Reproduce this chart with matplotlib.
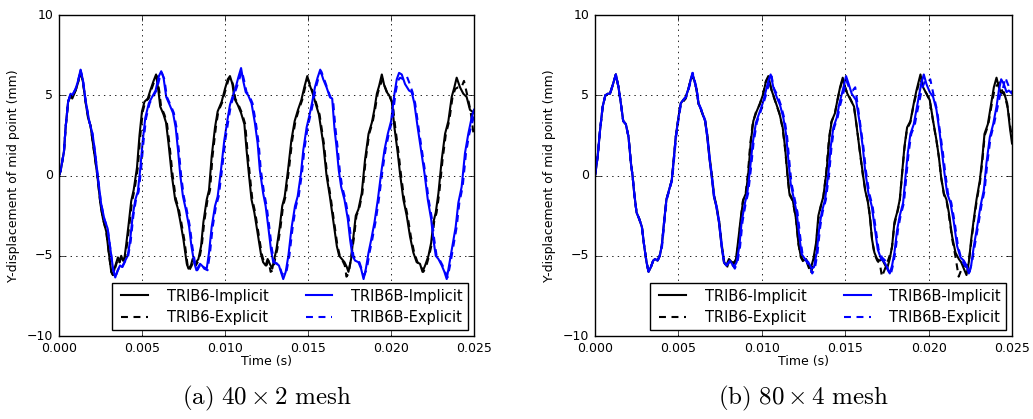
import numpy as np
import matplotlib
matplotlib.use("Agg")
import matplotlib.pyplot as plt
from matplotlib.ticker import FormatStrFormatter

# mid point y-displacement (mm) against time (ms), read as (t, y) pairs
# ---------------- 40 x 2 mesh ----------------
trib6_imp_40 = [(0,0),(0.1,0.3),(0.3,1.5),(0.4,3.0),(0.55,4.6),(0.7,5.0),(0.8,4.8),(1.0,5.3),(1.15,5.8),(1.3,6.5),(1.45,5.8),(1.6,4.6),(1.75,3.6),(1.9,3.1),(2.1,1.6),(2.3,0.1),(2.5,-1.8),(2.65,-2.7),(2.85,-3.5),(3.0,-4.8),(3.15,-6.0),(3.25,-6.2),(3.4,-5.6),(3.55,-5.1),(3.65,-5.4),(3.75,-5.0),(3.85,-5.3),(3.95,-5.1),(4.05,-4.3),(4.2,-3.0),(4.35,-1.6),(4.5,-0.9),(4.7,0.5),(4.85,2.5),(5.0,4.0),(5.15,4.6),(5.35,4.8),(5.5,5.3),(5.7,5.9),(5.85,6.3),(6.0,5.2),(6.1,4.3),(6.3,3.8),(6.45,3.3),(6.6,2.0),(6.8,0.0),(7.0,-1.5),(7.15,-2.0),(7.3,-2.8),(7.5,-4.0),(7.7,-5.5),(7.8,-5.8),(7.95,-5.6),(8.05,-5.2),(8.2,-5.5),(8.4,-5.2),(8.56,-4.4),(8.7,-2.9),(8.9,-1.5),(9.04,-0.9),(9.2,1.2),(9.4,3.0),(9.56,4.0),(9.8,4.6),(10.0,5.4),(10.17,6.0),(10.3,6.2),(10.45,5.7),(10.57,4.8),(10.77,4.4),(10.97,3.9),(11.17,3.2),(11.3,1.6),(11.45,0.0),(11.6,-1.5),(11.77,-2.3),(11.97,-3.6),(12.17,-4.9),(12.3,-5.4),(12.45,-5.6),(12.57,-5.2),(12.7,-5.5),(12.85,-5.8),(12.97,-5.2),(13.1,-4.6),(13.3,-3.2),(13.45,-1.9),(13.6,-1.3),(13.8,0.35),(14.0,2.2),(14.2,3.4),(14.4,4.1),(14.6,4.7),(14.78,5.5),(14.96,6.2),(15.12,5.6),(15.26,5.2),(15.46,4.5),(15.66,3.8),(15.92,2.0),(16.12,0.0),(16.32,-1.3),(16.52,-2.8),(16.74,-4.4),(16.88,-5.0),(17.04,-5.2),(17.2,-5.4),(17.34,-5.7),(17.44,-6.0),(17.6,-5.2),(17.74,-3.8),(17.88,-2.5),(18.04,-2.1),(18.24,-1.1),(18.44,1.0),(18.65,2.6),(18.85,3.3),(19.0,4.1),(19.15,5.1),(19.29,5.6),(19.45,6.3),(19.6,5.6),(19.75,5.2),(19.89,5.0),(20.05,4.6),(20.21,3.0),(20.41,1.4),(20.55,0.1),(20.75,-1.5),(20.95,-2.5),(21.15,-3.8),(21.35,-4.8),(21.55,-5.4),(21.75,-5.5),(21.9,-6.0),(22.06,-5.6),(22.26,-5.0),(22.42,-4.2),(22.56,-2.9),(22.7,-2.3),(22.86,-1.1),(23.06,1.0),(23.26,2.6),(23.46,3.4),(23.66,4.9),(23.82,5.5),(23.96,6.1),(24.16,5.5),(24.36,5.1),(24.56,4.9),(24.76,4.1),(25.0,3.9)]

trib6_exp_40 = [(0,0),(0.1,0.3),(0.3,1.5),(0.4,3.0),(0.55,4.6),(0.7,5.0),(0.8,4.9),(1.0,5.3),(1.15,5.8),(1.3,6.5),(1.45,5.8),(1.6,4.6),(1.75,3.7),(1.9,3.1),(2.1,1.6),(2.3,0.1),(2.5,-1.8),(2.65,-2.7),(2.85,-3.5),(3.0,-4.8),(3.15,-6.0),(3.25,-6.2),(3.4,-5.7),(3.55,-5.2),(3.65,-5.4),(3.75,-5.0),(3.9,-5.3),(4.0,-5.0),(4.1,-4.3),(4.25,-3.0),(4.4,-1.6),(4.55,-0.9),(4.75,0.5),(4.9,2.5),(5.05,4.0),(5.2,4.6),(5.4,4.8),(5.55,5.3),(5.75,5.9),(5.9,6.2),(6.05,5.2),(6.15,4.3),(6.35,3.8),(6.5,3.3),(6.65,2.0),(6.85,0.0),(7.05,-1.5),(7.2,-2.0),(7.35,-2.8),(7.55,-4.0),(7.75,-5.6),(7.85,-5.9),(8.0,-5.6),(8.1,-5.3),(8.25,-5.6),(8.45,-5.2),(8.6,-4.4),(8.75,-2.9),(8.95,-1.5),(9.1,-0.9),(9.25,1.2),(9.45,3.0),(9.6,4.0),(9.85,4.6),(10.05,5.4),(10.22,6.0),(10.35,6.1),(10.5,5.6),(10.62,4.8),(10.82,4.4),(11.02,3.9),(11.22,3.2),(11.35,1.6),(11.5,0.0),(11.65,-1.5),(11.82,-2.3),(12.02,-3.6),(12.22,-4.9),(12.35,-5.4),(12.5,-5.6),(12.62,-5.3),(12.75,-6.0),(12.88,-5.9),(13.02,-5.2),(13.15,-4.6),(13.35,-3.2),(13.5,-1.9),(13.65,-1.3),(13.85,0.35),(14.05,2.2),(14.25,3.4),(14.45,4.1),(14.65,4.7),(14.83,5.5),(15.0,6.0),(15.16,5.6),(15.3,5.2),(15.5,4.5),(15.7,3.8),(15.96,2.0),(16.16,0.0),(16.36,-1.3),(16.56,-2.8),(16.78,-4.4),(16.92,-5.0),(17.08,-5.3),(17.22,-5.6),(17.32,-6.3),(17.45,-6.1),(17.62,-5.0),(17.78,-3.8),(17.92,-2.5),(18.08,-2.1),(18.28,-1.1),(18.48,1.0),(18.69,2.6),(18.89,3.3),(19.04,4.1),(19.2,5.1),(19.34,5.6),(19.5,6.0),(19.65,5.5),(19.8,5.1),(19.94,4.9),(20.1,4.5),(20.26,3.0),(20.46,1.4),(20.6,0.1),(20.8,-1.5),(21.0,-2.5),(21.2,-3.8),(21.4,-4.8),(21.6,-5.4),(21.8,-5.6),(21.95,-6.0),(22.11,-5.7),(22.3,-5.0),(22.47,-4.2),(22.6,-2.9),(22.75,-2.3),(22.91,-1.1),(23.11,1.0),(23.31,2.6),(23.51,3.4),(23.71,4.9),(23.87,5.4),(24.05,5.5),(24.25,5.5),(24.4,5.9),(24.6,5.0),(24.8,4.0),(25.0,2.4)]

trib6b_imp_40 = [(0,0),(0.1,0.3),(0.3,1.5),(0.4,3.0),(0.55,4.6),(0.7,5.1),(0.8,5.0),(1.0,5.4),(1.15,5.9),(1.3,6.6),(1.45,5.9),(1.6,4.7),(1.82,3.4),(2.02,2.6),(2.18,1.4),(2.32,0.1),(2.53,-1.7),(2.73,-2.7),(2.93,-3.3),(3.13,-4.8),(3.27,-5.9),(3.39,-6.35),(3.54,-5.9),(3.68,-5.6),(3.8,-5.7),(3.94,-5.4),(4.14,-5.0),(4.28,-4.1),(4.44,-2.5),(4.6,-1.5),(4.75,-1.0),(4.89,0.35),(5.05,2.2),(5.2,3.6),(5.41,4.5),(5.61,4.9),(5.82,5.3),(6.02,6.2),(6.16,6.5),(6.3,6.1),(6.46,4.9),(6.67,4.4),(6.87,3.9),(7.03,3.0),(7.17,1.6),(7.31,0.0),(7.47,-1.3),(7.64,-2.1),(7.84,-3.2),(7.98,-4.4),(8.14,-5.4),(8.28,-5.9),(8.5,-5.5),(8.7,-5.7),(8.9,-5.8),(9.04,-4.8),(9.2,-3.2),(9.4,-1.9),(9.56,-1.3),(9.76,0.35),(9.96,2.2),(10.17,3.6),(10.3,4.4),(10.45,4.9),(10.65,5.5),(10.8,6.1),(10.97,6.7),(11.1,5.9),(11.25,5.2),(11.4,5.0),(11.6,4.5),(11.8,3.3),(11.97,2.0),(12.1,0.35),(12.3,-1.1),(12.45,-1.9),(12.61,-3.2),(12.77,-4.6),(12.91,-5.4),(13.11,-5.5),(13.25,-5.6),(13.37,-6.0),(13.51,-6.45),(13.66,-6.0),(13.82,-5.0),(14.02,-3.2),(14.22,-1.9),(14.38,-1.3),(14.58,0.15),(14.72,1.6),(14.92,3.0),(15.12,3.9),(15.26,4.6),(15.42,5.5),(15.58,6.1),(15.74,6.6),(15.92,6.0),(16.12,5.5),(16.32,4.9),(16.46,4.8),(16.6,2.9),(16.72,1.8),(16.86,0.3),(17.0,-0.7),(17.2,-1.5),(17.4,-2.7),(17.54,-4.0),(17.68,-5.0),(17.84,-5.3),(18.04,-5.4),(18.2,-5.8),(18.35,-6.45),(18.49,-5.8),(18.65,-4.8),(18.81,-4.0),(19.01,-2.9),(19.21,-1.5),(19.41,0.15),(19.61,1.6),(19.81,2.6),(20.01,3.4),(20.21,5.1),(20.35,6.0),(20.49,6.4),(20.65,6.3),(20.85,5.7),(21.09,5.3),(21.25,5.2),(21.41,4.5),(21.61,3.0),(21.81,1.6),(22.02,0.15),(22.22,-1.5),(22.42,-2.7),(22.56,-4.0),(22.7,-5.0),(22.86,-5.2),(23.06,-5.6),(23.22,-6.0),(23.36,-6.45),(23.5,-5.6),(23.7,-4.4),(23.9,-3.2),(24.06,-1.7),(24.26,-0.7),(24.46,1.4),(24.66,2.6),(24.86,3.6),(25.0,4.1)]

trib6b_exp_40 = [(0,0),(0.1,0.3),(0.3,1.5),(0.4,3.0),(0.55,4.6),(0.7,5.1),(0.8,5.0),(1.0,5.4),(1.15,5.9),(1.3,6.6),(1.45,5.9),(1.6,4.7),(1.82,3.4),(2.02,2.6),(2.18,1.4),(2.32,0.1),(2.53,-1.7),(2.73,-2.7),(2.93,-3.3),(3.13,-4.8),(3.27,-5.9),(3.4,-6.3),(3.55,-5.9),(3.7,-5.6),(3.82,-5.7),(3.96,-5.4),(4.17,-5.0),(4.32,-4.1),(4.48,-2.5),(4.64,-1.5),(4.8,-1.0),(4.94,0.35),(5.1,2.2),(5.25,3.6),(5.46,4.5),(5.66,4.9),(5.87,5.3),(6.07,6.1),(6.2,6.4),(6.35,6.0),(6.5,4.9),(6.72,4.4),(6.92,3.9),(7.08,3.0),(7.22,1.6),(7.36,0.0),(7.52,-1.3),(7.69,-2.1),(7.89,-3.2),(8.03,-4.4),(8.19,-5.4),(8.33,-5.9),(8.55,-5.5),(8.75,-5.8),(8.95,-5.9),(9.1,-4.8),(9.26,-3.2),(9.46,-1.9),(9.62,-1.3),(9.82,0.35),(10.02,2.2),(10.23,3.6),(10.36,4.4),(10.51,4.9),(10.71,5.5),(10.86,6.0),(11.02,6.5),(11.16,5.9),(11.3,5.2),(11.46,5.0),(11.66,4.5),(11.86,3.3),(12.03,2.0),(12.16,0.35),(12.36,-1.1),(12.51,-1.9),(12.67,-3.2),(12.83,-4.6),(12.97,-5.4),(13.17,-5.5),(13.31,-5.7),(13.43,-6.1),(13.57,-6.2),(13.72,-5.9),(13.88,-5.0),(14.08,-3.2),(14.28,-1.9),(14.44,-1.3),(14.64,0.15),(14.78,1.6),(14.98,3.0),(15.18,3.9),(15.32,4.6),(15.48,5.5),(15.64,6.1),(15.8,6.5),(15.98,6.0),(16.18,5.4),(16.38,4.8),(16.52,4.6),(16.66,2.9),(16.78,1.8),(16.92,0.3),(17.06,-0.7),(17.26,-1.5),(17.46,-2.7),(17.6,-4.0),(17.74,-5.0),(17.9,-5.3),(18.1,-5.4),(18.26,-5.9),(18.4,-6.2),(18.55,-5.8),(18.71,-4.8),(18.87,-4.0),(19.07,-2.9),(19.27,-1.5),(19.47,0.15),(19.67,1.6),(19.87,2.6),(20.07,3.4),(20.27,5.1),(20.41,5.9),(20.55,6.1),(20.75,6.0),(20.95,6.2),(21.1,5.8),(21.3,5.2),(21.46,4.5),(21.66,3.0),(21.86,1.6),(22.07,0.15),(22.27,-1.5),(22.47,-2.7),(22.61,-4.0),(22.75,-5.0),(22.91,-5.2),(23.11,-5.6),(23.27,-6.0),(23.41,-6.35),(23.56,-5.6),(23.76,-4.4),(23.96,-3.2),(24.12,-1.7),(24.32,-0.7),(24.52,1.4),(24.72,2.6),(24.92,3.4),(25.0,3.7)]

# ---------------- 80 x 4 mesh ----------------
trib6_imp_80 = [(0,0),(0.02,0.1),(0.16,1.2),(0.3,2.8),(0.46,4.3),(0.62,5.0),(0.76,5.1),(0.9,5.1),(1.02,5.5),(1.16,6.0),(1.25,6.3),(1.41,5.5),(1.55,4.5),(1.69,3.4),(1.85,3.2),(2.01,2.4),(2.15,0.8),(2.25,0.0),(2.35,-1.1),(2.49,-2.3),(2.65,-2.7),(2.81,-3.2),(2.95,-4.4),(3.09,-5.4),(3.21,-6.0),(3.35,-5.7),(3.49,-5.3),(3.6,-5.2),(3.75,-5.3),(3.88,-5.0),(4.0,-4.4),(4.14,-2.9),(4.28,-1.5),(4.44,-0.9),(4.6,-0.3),(4.68,0.55),(4.84,2.4),(5.0,3.6),(5.14,4.5),(5.28,4.7),(5.44,4.9),(5.6,5.4),(5.74,6.0),(5.84,6.3),(5.96,5.9),(6.08,5.4),(6.2,4.5),(6.4,4.0),(6.6,3.4),(6.73,2.4),(6.87,1.0),(6.99,0.0),(7.13,-1.3),(7.27,-1.9),(7.43,-2.9),(7.59,-4.4),(7.73,-5.4),(7.87,-5.6),(8.03,-5.2),(8.2,-5.4),(8.35,-5.4),(8.45,-5.2),(8.59,-4.0),(8.73,-2.7),(8.89,-1.5),(9.05,-1.1),(9.19,0.15),(9.33,2.0),(9.49,3.4),(9.69,4.0),(9.89,4.5),(10.09,5.1),(10.25,5.9),(10.39,6.2),(10.59,5.3),(10.79,4.7),(11.05,3.9),(11.25,3.0),(11.39,1.8),(11.53,0.15),(11.65,-1.1),(11.85,-1.5),(12.05,-2.7),(12.19,-4.2),(12.33,-5.0),(12.49,-5.3),(12.65,-5.2),(12.79,-5.5),(12.93,-5.8),(13.09,-5.2),(13.25,-4.2),(13.39,-2.5),(13.53,-1.9),(13.69,-1.3),(13.89,0.35),(14.05,2.4),(14.19,3.4),(14.39,3.9),(14.53,4.7),(14.69,5.5),(14.85,6.1),(14.99,5.5),(15.13,5.1),(15.33,4.7),(15.53,4.3),(15.69,3.0),(15.89,1.4),(16.05,0.15),(16.19,-0.9),(16.35,-1.6),(16.47,-2.5),(16.61,-4.0),(16.75,-4.8),(16.91,-5.2),(17.07,-5.3),(17.21,-5.2),(17.35,-5.5),(17.51,-5.8),(17.67,-5.2),(17.81,-4.4),(17.95,-2.9),(18.11,-2.3),(18.27,-1.5),(18.41,0.15),(18.55,1.8),(18.71,3.0),(18.91,3.4),(19.11,4.5),(19.27,5.3),(19.41,5.9),(19.51,6.3),(19.67,5.5),(19.87,5.1),(20.07,4.7),(20.27,3.4),(20.47,2.2),(20.61,1.2),(20.75,-0.1),(20.91,-1.1),(21.07,-1.5),(21.21,-2.3),(21.41,-3.8),(21.61,-4.8),(21.81,-5.2),(21.95,-5.4),(22.11,-5.8),(22.27,-6.2),(22.41,-5.4),(22.55,-4.0),(22.71,-2.7),(22.87,-1.5),(23.07,-0.3),(23.21,1.0),(23.35,2.6),(23.55,3.2),(23.75,4.5),(23.91,5.5),(24.07,6.1),(24.21,5.5),(24.35,5.1),(24.51,5.2),(24.71,4.5),(24.87,3.0),(25.0,2.0)]

trib6_exp_80 = [(0,0),(0.16,1.2),(0.3,2.8),(0.46,4.3),(0.62,5.0),(0.9,5.1),(1.02,5.5),(1.16,6.0),(1.25,6.3),(1.41,5.5),(1.55,4.5),(1.69,3.4),(1.85,3.2),(2.01,2.4),(2.15,0.8),(2.25,0.0),(2.35,-1.1),(2.49,-2.3),(2.65,-2.7),(2.81,-3.2),(2.95,-4.4),(3.09,-5.4),(3.21,-6.0),(3.35,-5.7),(3.49,-5.3),(3.6,-5.2),(3.75,-5.3),(3.88,-5.0),(4.0,-4.4),(4.14,-2.9),(4.28,-1.5),(4.44,-0.9),(4.6,-0.3),(4.68,0.55),(4.84,2.4),(5.0,3.6),(5.14,4.5),(5.28,4.6),(5.44,4.8),(5.6,5.4),(5.74,6.0),(5.86,6.2),(5.98,5.8),(6.1,5.3),(6.22,4.4),(6.42,3.9),(6.62,3.3),(6.75,2.4),(6.89,1.0),(7.01,0.0),(7.15,-1.3),(7.29,-1.9),(7.45,-2.9),(7.61,-4.4),(7.75,-5.4),(7.89,-5.8),(8.05,-5.3),(8.25,-5.6),(8.45,-5.3),(8.6,-4.2),(8.72,-2.9),(8.86,-1.6),(9.02,-1.2),(9.16,0.0),(9.3,1.9),(9.46,3.3),(9.66,4.0),(9.86,4.4),(10.06,5.0),(10.22,5.8),(10.38,6.1),(10.56,5.4),(10.78,4.7),(11.04,3.9),(11.24,3.0),(11.4,1.6),(11.54,0.0),(11.66,-1.2),(11.86,-1.6),(12.06,-2.8),(12.2,-4.3),(12.34,-5.1),(12.5,-5.4),(12.66,-5.3),(12.8,-5.7),(12.95,-6.1),(13.1,-5.4),(13.24,-4.5),(13.38,-2.8),(13.52,-2.0),(13.68,-1.4),(13.86,0.2),(14.02,2.2),(14.16,3.3),(14.36,3.8),(14.5,4.5),(14.66,5.3),(14.82,5.9),(14.96,5.6),(15.1,5.2),(15.3,4.8),(15.52,4.3),(15.7,3.0),(15.9,1.3),(16.06,0.0),(16.22,-1.0),(16.38,-1.7),(16.5,-2.7),(16.62,-4.1),(16.76,-4.9),(16.92,-5.3),(17.08,-5.5),(17.2,-6.3),(17.35,-5.9),(17.5,-5.5),(17.66,-5.0),(17.8,-4.5),(17.94,-3.1),(18.1,-2.4),(18.26,-1.7),(18.4,0.0),(18.54,1.6),(18.7,2.9),(18.9,3.3),(19.1,4.4),(19.26,5.1),(19.4,5.7),(19.52,6.0),(19.68,5.4),(19.88,5.1),(20.08,4.6),(20.28,3.3),(20.48,2.1),(20.62,1.1),(20.76,-0.2),(20.92,-1.2),(21.08,-1.6),(21.22,-2.5),(21.42,-4.0),(21.6,-5.0),(21.8,-6.3),(21.95,-5.9),(22.12,-5.6),(22.28,-5.7),(22.42,-5.3),(22.56,-4.1),(22.72,-2.8),(22.88,-1.6),(23.08,-0.4),(23.22,0.9),(23.36,2.5),(23.56,3.1),(23.76,4.3),(23.92,5.2),(24.08,5.6),(24.25,5.8),(24.4,5.3),(24.55,5.0),(24.75,4.2),(24.9,3.0),(25.0,2.3)]

trib6b_imp_80 = [(0,0),(0.02,0.1),(0.16,1.2),(0.3,2.8),(0.46,4.3),(0.62,5.0),(0.76,5.1),(0.9,5.1),(1.02,5.5),(1.16,6.0),(1.25,6.3),(1.41,5.5),(1.55,4.5),(1.69,3.4),(1.85,3.2),(2.01,2.4),(2.15,0.8),(2.25,0.0),(2.35,-1.1),(2.49,-2.3),(2.65,-2.7),(2.81,-3.2),(2.95,-4.4),(3.09,-5.4),(3.21,-6.0),(3.35,-5.7),(3.49,-5.3),(3.6,-5.2),(3.75,-5.3),(3.88,-5.0),(4.0,-4.4),(4.14,-2.9),(4.28,-1.5),(4.44,-0.9),(4.6,-0.3),(4.68,0.55),(4.84,2.4),(5.0,3.6),(5.14,4.5),(5.28,4.7),(5.44,4.9),(5.6,5.4),(5.74,6.0),(5.84,6.4),(5.96,5.9),(6.08,5.4),(6.2,4.5),(6.4,4.0),(6.6,3.4),(6.73,2.4),(6.87,1.0),(6.99,0.0),(7.13,-1.3),(7.27,-1.9),(7.43,-2.9),(7.59,-4.4),(7.73,-5.4),(7.87,-5.6),(8.09,-5.3),(8.33,-5.7),(8.49,-5.4),(8.65,-4.4),(8.79,-2.9),(8.99,-1.7),(9.13,-1.1),(9.29,0.35),(9.45,2.0),(9.65,3.3),(9.85,3.9),(10.05,4.5),(10.25,5.3),(10.39,5.9),(10.53,6.3),(10.69,5.5),(10.89,4.9),(11.09,4.4),(11.29,3.6),(11.45,2.6),(11.59,1.0),(11.73,-0.5),(11.89,-1.3),(12.09,-2.3),(12.25,-3.8),(12.39,-4.9),(12.59,-5.2),(12.79,-5.4),(12.99,-5.8),(13.13,-5.7),(13.29,-4.8),(13.45,-3.2),(13.59,-2.3),(13.79,-1.5),(13.99,0.15),(14.13,1.8),(14.29,3.0),(14.49,3.6),(14.65,4.5),(14.85,5.3),(15.05,6.2),(15.21,5.7),(15.39,5.1),(15.65,4.7),(15.85,3.4),(16.05,1.8),(16.19,0.35),(16.39,-1.1),(16.59,-1.9),(16.79,-3.4),(16.95,-4.6),(17.15,-5.2),(17.35,-5.4),(17.51,-5.7),(17.67,-6.1),(17.81,-5.6),(17.95,-4.8),(18.11,-3.4),(18.27,-2.5),(18.47,-1.7),(18.61,-0.1),(18.75,1.4),(18.91,2.6),(19.11,3.2),(19.27,4.1),(19.41,4.9),(19.55,5.7),(19.71,6.3),(19.87,5.7),(20.07,5.2),(20.27,4.9),(20.47,4.1),(20.67,2.6),(20.81,1.4),(20.95,0.15),(21.11,-1.1),(21.31,-1.7),(21.51,-2.9),(21.71,-4.4),(21.91,-5.1),(22.11,-5.3),(22.27,-5.6),(22.41,-6.1),(22.55,-5.6),(22.71,-4.4),(22.91,-3.2),(23.11,-1.9),(23.31,-0.9),(23.47,0.8),(23.67,2.4),(23.87,3.2),(24.07,4.3),(24.21,5.3),(24.35,6.0),(24.51,5.7),(24.67,5.2),(24.81,5.3),(25.0,5.1)]

trib6b_exp_80 = [(0,0),(0.16,1.2),(0.3,2.8),(0.46,4.3),(0.62,5.0),(0.9,5.1),(1.02,5.5),(1.16,6.0),(1.25,6.3),(1.41,5.5),(1.55,4.5),(1.69,3.4),(1.85,3.2),(2.01,2.4),(2.15,0.8),(2.25,0.0),(2.35,-1.1),(2.49,-2.3),(2.65,-2.7),(2.81,-3.2),(2.95,-4.4),(3.09,-5.4),(3.21,-6.0),(3.35,-5.7),(3.49,-5.3),(3.6,-5.2),(3.75,-5.3),(3.88,-5.0),(4.02,-4.4),(4.16,-2.9),(4.3,-1.5),(4.46,-0.9),(4.62,-0.3),(4.7,0.55),(4.86,2.4),(5.02,3.6),(5.16,4.5),(5.3,4.7),(5.46,4.9),(5.62,5.4),(5.76,6.0),(5.86,6.4),(5.98,5.9),(6.1,5.4),(6.22,4.5),(6.42,4.0),(6.62,3.4),(6.75,2.4),(6.89,1.0),(7.01,0.0),(7.15,-1.3),(7.29,-1.9),(7.45,-2.9),(7.61,-4.4),(7.75,-5.4),(7.89,-5.6),(8.12,-5.3),(8.38,-5.8),(8.54,-5.4),(8.7,-4.4),(8.84,-2.9),(9.04,-1.7),(9.18,-1.1),(9.34,0.35),(9.5,2.0),(9.7,3.3),(9.9,3.9),(10.1,4.5),(10.3,5.2),(10.44,5.8),(10.58,6.2),(10.74,5.4),(10.94,5.0),(11.14,4.4),(11.34,3.6),(11.5,2.6),(11.64,1.0),(11.78,-0.5),(11.94,-1.3),(12.14,-2.3),(12.3,-3.8),(12.44,-4.9),(12.64,-5.3),(12.84,-5.6),(13.02,-6.1),(13.18,-5.8),(13.34,-4.8),(13.5,-3.2),(13.64,-2.3),(13.84,-1.5),(14.04,0.15),(14.18,1.8),(14.34,3.0),(14.54,3.6),(14.7,4.4),(14.9,5.2),(15.08,5.9),(15.26,5.4),(15.45,5.3),(15.6,5.5),(15.72,4.6),(15.9,3.3),(16.1,1.7),(16.24,0.3),(16.44,-1.1),(16.64,-1.9),(16.84,-3.4),(17.0,-4.6),(17.2,-5.1),(17.4,-5.3),(17.56,-5.9),(17.72,-6.2),(17.86,-5.6),(18.0,-4.8),(18.16,-3.4),(18.32,-2.5),(18.52,-1.7),(18.66,-0.1),(18.8,1.4),(18.96,2.6),(19.16,3.1),(19.32,4.0),(19.46,4.7),(19.6,5.4),(19.78,5.9),(19.94,5.8),(20.1,6.0),(20.3,5.0),(20.5,4.1),(20.7,2.6),(20.86,1.4),(21.0,0.15),(21.16,-1.1),(21.36,-1.7),(21.56,-2.9),(21.76,-4.4),(21.96,-5.2),(22.16,-5.6),(22.32,-5.8),(22.46,-6.0),(22.6,-5.4),(22.76,-4.4),(22.96,-3.2),(23.16,-1.9),(23.36,-0.9),(23.52,0.8),(23.72,2.4),(23.92,3.2),(24.12,4.2),(24.28,5.0),(24.45,5.4),(24.6,6.1),(24.75,5.7),(24.9,5.3),(25.0,5.2)]

labels = ["TRIB6-Implicit", "TRIB6-Explicit", "TRIB6B-Implicit", "TRIB6B-Explicit"]
captions = [r"$\mathrm{(a)\ 40\times2\ mesh}$", r"$\mathrm{(b)\ 80\times4\ mesh}$"]
xticks = [0.000, 0.005, 0.010, 0.015, 0.020, 0.025]
yticks = [-10, -5, 0, 5, 10]

plt.style.use("classic")
plt.rcParams["font.family"] = "DejaVu Sans"
plt.rcParams["mathtext.fontset"] = "cm"

fig = plt.figure(figsize=(10.33, 4.19), dpi=100, facecolor="white")
ax1 = fig.add_axes([0.0571, 0.198, 0.4017, 0.766])
ax2 = fig.add_axes([0.576, 0.198, 0.4037, 0.766])

groups = [
    (ax1, [trib6_imp_40, trib6_exp_40, trib6b_imp_40, trib6b_exp_40]),
    (ax2, [trib6_imp_80, trib6_exp_80, trib6b_imp_80, trib6b_exp_80]),
]
# colour, dash pattern (None = solid)
styles = [("k", None), ("k", (5, 4)), ("b", None), ("b", (5, 4))]

for (ax, series), cap in zip(groups, captions):
    for s, (c, dash), lab in zip(series, styles, labels):
        t, y = np.array(s).T
        line, = ax.plot(t / 1000.0, y, color=c, linewidth=1.5, label=lab)
        if dash is not None:
            line.set_dashes(dash)
    ax.set_xlim(0, 0.025)
    ax.set_ylim(-10, 10)
    ax.set_xticks(xticks)
    ax.set_yticks(yticks)
    ax.xaxis.set_major_formatter(FormatStrFormatter("%.3f"))
    ax.tick_params(labelsize=9, direction="in", top=True, right=True)
    ax.grid(True, color="k", linestyle=":", linewidth=0.6)
    ax.set_xlabel("Time (s)", fontsize=9, labelpad=0)
    ax.set_ylabel("Y-displacement of mid point (mm)", fontsize=9)
    ax.legend(loc="lower right", ncol=2, fontsize=10.5, borderaxespad=0.4,
              borderpad=0.35, handlelength=2.4, handletextpad=1.0,
              columnspacing=2.3, labelspacing=0.45, fancybox=False)
    pos = ax.get_position()
    fig.text(pos.x0 + pos.width / 2, 0.05, cap, ha="center", va="center", fontsize=18)

fig.savefig("out.png", dpi=100, facecolor="white")
